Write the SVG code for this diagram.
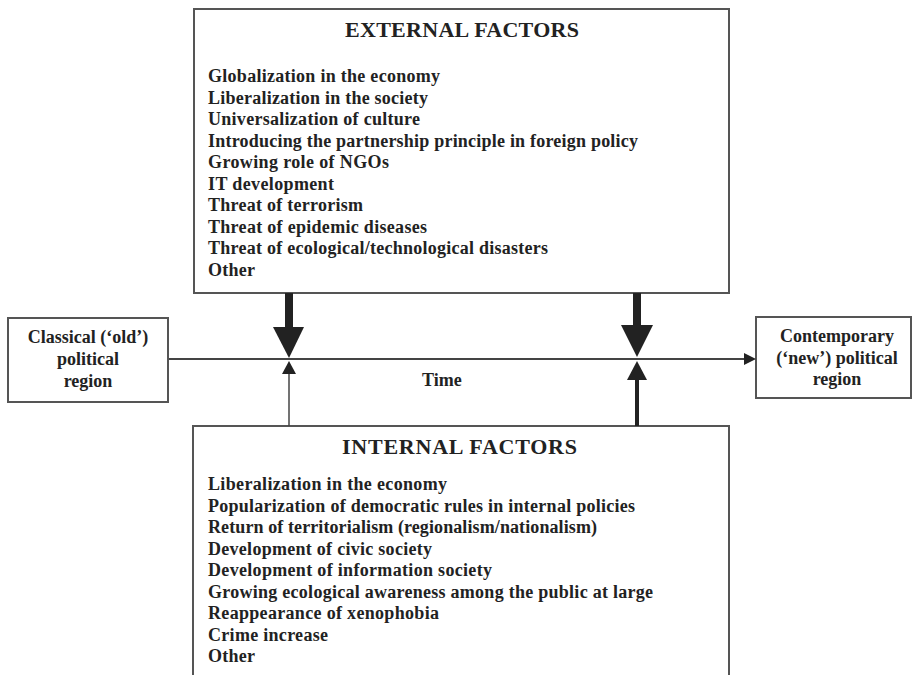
<svg xmlns="http://www.w3.org/2000/svg" width="912" height="675" viewBox="0 0 912 675">
<style>
.box{fill:#fff;stroke:#555;stroke-width:2}
text{font-family:"Liberation Serif","Times New Roman",serif;font-weight:bold;fill:#222}
.t{font-size:22px}
.b{font-size:18px}
.c{font-size:18px;text-anchor:middle}
.ln{stroke:#444;fill:none}
.ah{fill:#222}
</style>
<rect width="912" height="675" fill="#fff"/>
<g id="external">
<rect class="box" x="194" y="9" width="535" height="284"/>
<text class="t" x="345" y="37" textLength="234">EXTERNAL FACTORS</text>
<text class="b" x="208" y="82" textLength="232">Globalization in the economy</text>
<text class="b" x="208" y="103.5" textLength="220">Liberalization in the society</text>
<text class="b" x="208" y="125" textLength="212">Universalization of culture</text>
<text class="b" x="208" y="146.5" textLength="430">Introducing the partnership principle in foreign policy</text>
<text class="b" x="208" y="168" textLength="181">Growing role of NGOs</text>
<text class="b" x="208" y="189.5" textLength="126">IT development</text>
<text class="b" x="208" y="211" textLength="155">Threat of terrorism</text>
<text class="b" x="208" y="232.5" textLength="219">Threat of epidemic diseases</text>
<text class="b" x="208" y="254" textLength="340">Threat of ecological/technological disasters</text>
<text class="b" x="208" y="275.5" textLength="47">Other</text>
</g>
<g id="internal">
<rect class="box" x="193" y="426" width="536" height="300"/>
<text class="t" x="342" y="454" textLength="235">INTERNAL FACTORS</text>
<text class="b" x="208" y="490" textLength="239">Liberalization in the economy</text>
<text class="b" x="208" y="511.5" textLength="427">Popularization of democratic rules in internal policies</text>
<text class="b" x="208" y="533" textLength="389">Return of territorialism (regionalism/nationalism)</text>
<text class="b" x="208" y="554.5" textLength="224">Development of civic society</text>
<text class="b" x="208" y="576" textLength="284">Development of information society</text>
<text class="b" x="208" y="597.5" textLength="445">Growing ecological awareness among the public at large</text>
<text class="b" x="208" y="619" textLength="231">Reappearance of xenophobia</text>
<text class="b" x="208" y="640.5" textLength="120">Crime increase</text>
<text class="b" x="208" y="662" textLength="47">Other</text>
</g>
<g id="old">
<rect class="box" x="8" y="318" width="160" height="84"/>
<text class="c" x="88" y="343">Classical (‘old’)</text>
<text class="c" x="88" y="365">political</text>
<text class="c" x="88" y="387">region</text>
</g>
<g id="new">
<rect class="box" x="756" y="317" width="155" height="81"/>
<text class="c" x="837" y="342">Contemporary</text>
<text class="c" x="837" y="364">(‘new’) political</text>
<text class="c" x="837" y="385">region</text>
</g>
<g id="connectors">
<line class="ln" x1="169" y1="359" x2="746" y2="359" stroke-width="2"/>
<polygon class="ah" points="744,353 756,359 744,365"/>
<rect class="ah" x="285" y="293" width="8" height="35"/>
<polygon class="ah" points="273,327 304,327 289,358"/>
<rect class="ah" x="633" y="293" width="8" height="33"/>
<polygon class="ah" points="621,325 653,325 637,357"/>
<polygon class="ah" points="282,374 296,374 289,361"/>
<line class="ln" x1="289" y1="374" x2="289" y2="426" stroke-width="1.5"/>
<polygon class="ah" points="627,380 647,380 637,361"/>
<rect class="ah" x="635" y="379" width="4" height="47"/>
</g>
<text class="b" x="422" y="386">Time</text>
</svg>
